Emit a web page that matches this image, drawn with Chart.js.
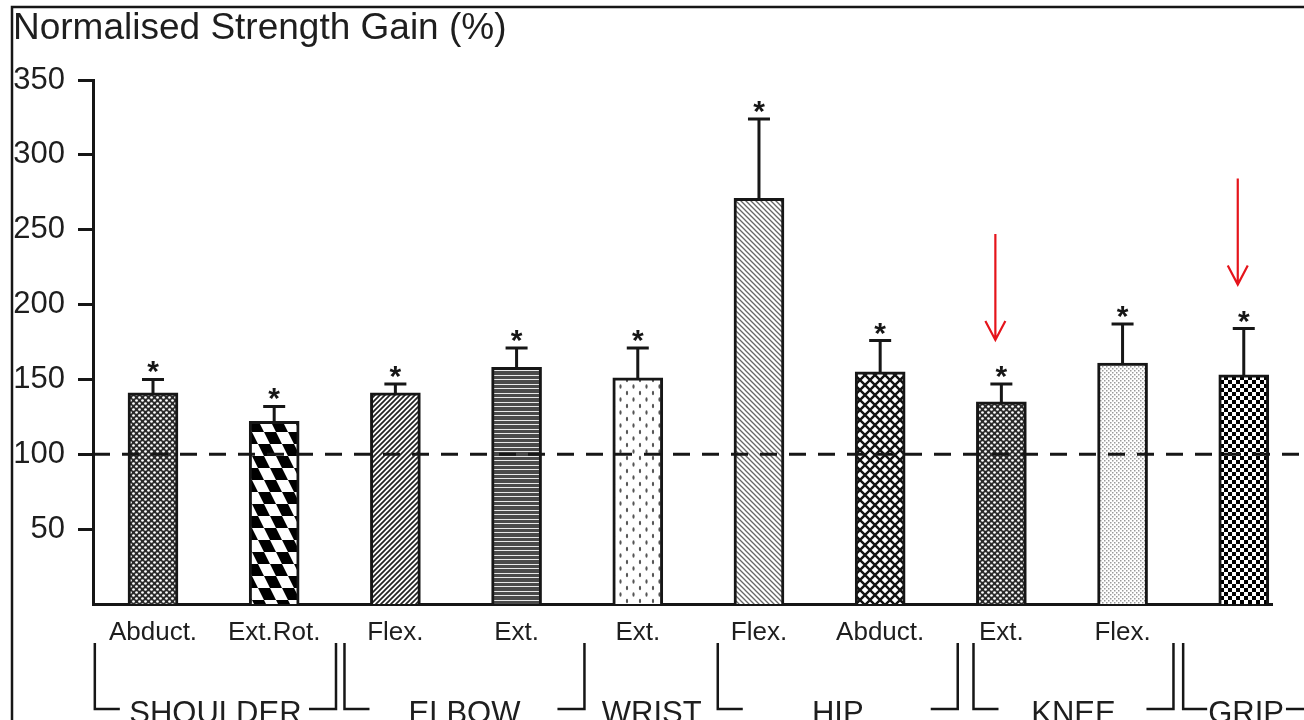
<!DOCTYPE html>
<html>
<head>
<meta charset="utf-8">
<script src="https://cdn.jsdelivr.net/npm/chart.js@4.4.1/dist/chart.umd.min.js"></script>
<style>
    html, body { margin: 0; padding: 0; background: #fff; }
    canvas { display: block; }
</style>
</head>
<body>
<canvas id="chart" width="1304" height="720"></canvas>
<script>
// values
const categories = ['Abduct.', 'Ext.Rot.', 'Flex.', 'Ext.', 'Ext.', 'Flex.', 'Abduct.', 'Ext.', 'Flex.', ''];
const meanGain = [141, 122, 141, 158, 151, 271, 155, 135, 161, 153];
const sdGain = [9, 10, 6, 13, 20, 53, 21, 12, 26, 31];
const significant = [true, true, true, true, true, true, true, true, true, true];
const yTicks = [50, 100, 150, 200, 250, 300, 350];
const referenceLine = 100;

const groupNames = ['SHOULDER', 'ELBOW', 'WRIST', 'HIP', 'KNEE', 'GRIP'];
const groupFirst = [0, 2, 4, 5, 7, 9];
const groupLast = [1, 3, 4, 6, 8, 9];

const markedBars = [7, 9]; // red arrows

const FONT = '"Liberation Sans", Arial, sans-serif';
const INK = '#161616';

const canvas = document.getElementById('chart');
const mainCtx = canvas.getContext('2d');

function tile(w, h, draw) {
    const c = document.createElement('canvas');
    c.width = w;
    c.height = h;
    const g = c.getContext('2d');
    g.fillStyle = '#fff';
    g.fillRect(0, 0, w, h);
    draw(g, w, h);
    return mainCtx.createPattern(c, 'repeat');
}

// one fill pattern per bar, roughly like the printed hatching
const patterns = {
    holes: tile(6, 6, g => {
        g.fillStyle = '#2a2a2a';
        g.fillRect(0, 0, 6, 6);
        g.fillStyle = '#fff';
        [[1.5, 1.5], [4.5, 4.5]].forEach(([px, py]) => {
            g.beginPath(); g.arc(px, py, 1.35, 0, Math.PI * 2); g.fill();
        });
    }),
    shearChecker: tile(24, 48, g => {
        g.fillStyle = '#000';
        for (let r = 0; r < 4; r++) {
            const y0 = r * 12, y1 = y0 + 12;
            for (let k = -3; k < 3; k++) {
                const x0 = 12 * (r % 2) + 24 * k;
                g.beginPath();
                g.moveTo(x0 + 0.5 * y0, y0);
                g.lineTo(x0 + 12 + 0.5 * y0, y0);
                g.lineTo(x0 + 12 + 0.5 * y1, y1);
                g.lineTo(x0 + 0.5 * y1, y1);
                g.closePath();
                g.fill();
            }
        }
    }),
    hatchFwd: tile(5, 5, g => {
        g.strokeStyle = '#222';
        g.lineWidth = 1.7;
        g.beginPath();
        g.moveTo(-1, 6); g.lineTo(6, -1);
        g.moveTo(-1, 1); g.lineTo(1, -1);
        g.moveTo(4, 6); g.lineTo(6, 4);
        g.stroke();
    }),
    hLines: tile(4, 18, g => {
        g.fillStyle = '#4a4a4a';
        g.fillRect(0, 0, 4, 18);
        g.fillStyle = '#e8e8e8';
        [1, 6, 10, 15].forEach(y => g.fillRect(0, y, 4, 1));
    }),
    sparseDots: tile(13, 13, g => {
        g.fillStyle = '#555';
        [[3, 3], [9.5, 9.5]].forEach(([px, py]) => {
            g.beginPath(); g.ellipse(px, py, 1.1, 2.2, 0, 0, Math.PI * 2); g.fill();
        });
    }),
    hatchBack: tile(5, 5, g => {
        g.strokeStyle = '#666';
        g.lineWidth = 1.3;
        g.beginPath();
        g.moveTo(-1, -1); g.lineTo(6, 6);
        g.moveTo(4, -1); g.lineTo(6, 1);
        g.moveTo(-1, 4); g.lineTo(1, 6);
        g.stroke();
    }),
    crossHatch: tile(10, 10, g => {
        g.strokeStyle = '#111';
        g.lineWidth = 2.4;
        g.beginPath();
        g.moveTo(-1, -1); g.lineTo(11, 11);
        g.moveTo(11, -1); g.lineTo(-1, 11);
        g.stroke();
    }),
    stipple: tile(4, 4, g => {
        g.fillStyle = '#9a9a9a';
        g.fillRect(0, 0, 1.5, 1.5);
        g.fillRect(2, 2, 1.5, 1.5);
    }),
    checker: tile(8, 8, g => {
        g.fillStyle = '#000';
        g.fillRect(0, 0, 4, 4);
        g.fillRect(4, 4, 4, 4);
    })
};

const barFills = [
    patterns.holes, patterns.shearChecker, patterns.hatchFwd, patterns.hLines, patterns.sparseDots,
    patterns.hatchBack, patterns.crossHatch, patterns.holes, patterns.stipple, patterns.checker
];

// frame and title
const frame = {
    id: 'frame',
    beforeDraw(chart) {
        const ctx = chart.ctx;
        ctx.save();
        ctx.strokeStyle = INK;
        ctx.lineWidth = 2.5;
        ctx.beginPath();
        ctx.moveTo(12, chart.height);
        ctx.lineTo(12, 7);
        ctx.lineTo(chart.width, 7);
        ctx.stroke();
        ctx.fillStyle = '#1e1e1e';
        ctx.font = '37px ' + FONT;
        ctx.textAlign = 'left';
        ctx.textBaseline = 'alphabetic';
        ctx.fillText('Normalised Strength Gain (%)', 13, 39);
        ctx.restore();
    }
};

const dashedReference = {
    id: 'dashedReference',
    afterDatasetsDraw(chart) {
        const { ctx, chartArea, scales: { y } } = chart;
        const py = y.getPixelForValue(referenceLine);
        ctx.save();
        ctx.strokeStyle = INK;
        ctx.lineWidth = 3;
        ctx.setLineDash([17, 12]);
        ctx.beginPath();
        ctx.moveTo(chartArea.left, py);
        ctx.lineTo(chart.width, py);
        ctx.stroke();
        ctx.restore();
    }
};

const errorBars = {
    id: 'errorBars',
    afterDatasetsDraw(chart) {
        const { ctx, scales: { x, y } } = chart;
        ctx.save();
        ctx.strokeStyle = INK;
        ctx.fillStyle = INK;
        ctx.lineWidth = 3;
        ctx.font = 'bold 30px ' + FONT;
        ctx.textAlign = 'center';
        ctx.textBaseline = 'alphabetic';
        const star = ctx.measureText('*');
        meanGain.forEach((m, i) => {
            const cx = x.getPixelForValue(i);
            const top = y.getPixelForValue(m);
            const err = y.getPixelForValue(m + sdGain[i]);
            ctx.beginPath();
            ctx.moveTo(cx, top);
            ctx.lineTo(cx, err);
            ctx.moveTo(cx - 11, err);
            ctx.lineTo(cx + 11, err);
            ctx.stroke();
            if (significant[i]) {
                ctx.fillText('*', cx, err - 6 - star.actualBoundingBoxDescent);
            }
        });
        // red arrows pointing at the highlighted bars
        ctx.strokeStyle = '#e5141b';
        ctx.lineWidth = 2.2;
        markedBars.forEach(i => {
            const ax = x.getPixelForValue(i) - 6;
            const tip = y.getPixelForValue(meanGain[i] + sdGain[i]) - 44;
            ctx.beginPath();
            ctx.moveTo(ax, tip - 106);
            ctx.lineTo(ax, tip);
            ctx.moveTo(ax - 10, tip - 19);
            ctx.lineTo(ax, tip);
            ctx.lineTo(ax + 10, tip - 19);
            ctx.stroke();
        });
        ctx.restore();
    }
};

// joint brackets under the movement labels
const groupBrackets = {
    id: 'groupBrackets',
    afterDraw(chart) {
        const { ctx, chartArea, scales: { x } } = chart;
        // bracket edges in category units (as drawn in the original figure)
        const edges = [[-0.48, 1.51], [1.58, 3.56], [null, null], [4.66, 6.64], [6.77, 8.42], [8.50, null]];
        const yTop = chartArea.bottom + 39;
        const yBar = chartArea.bottom + 105;
        const baseY = chartArea.bottom + 119;
        ctx.save();
        ctx.strokeStyle = INK;
        ctx.fillStyle = '#1e1e1e';
        ctx.lineWidth = 2.5;
        ctx.font = '31px ' + FONT;
        ctx.textBaseline = 'alphabetic';
        groupNames.forEach((name, g) => {
            const w = ctx.measureText(name).width;
            const [l, r] = edges[g];
            if (l === null) {
                // label only, under its single bar
                const cx = x.getPixelForValue(groupFirst[g]) + 14;
                ctx.textAlign = 'center';
                ctx.fillText(name, cx, baseY);
                return;
            }
            const lx = x.getPixelForValue(l);
            if (r === null) {
                // open-ended bracket running off the right edge
                ctx.beginPath();
                ctx.moveTo(lx, yTop);
                ctx.lineTo(lx, yBar);
                ctx.lineTo(lx + 24, yBar);
                ctx.stroke();
                ctx.textAlign = 'left';
                ctx.fillText(name, lx + 25, baseY);
                ctx.beginPath();
                ctx.moveTo(lx + 27 + w, yBar);
                ctx.lineTo(chart.width, yBar);
                ctx.stroke();
                return;
            }
            const rx = x.getPixelForValue(r);
            const mid = (lx + rx) / 2;
            const stubL = Math.min(25, mid - w / 2 - 6 - lx);
            const stubR = Math.min(27, rx - (mid + w / 2 + 5));
            ctx.beginPath();
            ctx.moveTo(lx, yTop);
            ctx.lineTo(lx, yBar);
            ctx.lineTo(lx + stubL, yBar);
            ctx.moveTo(rx - stubR, yBar);
            ctx.lineTo(rx, yBar);
            ctx.lineTo(rx, yTop);
            ctx.stroke();
            ctx.textAlign = 'center';
            ctx.fillText(name, mid, baseY);
        });
        ctx.restore();
    }
};

new Chart(canvas, {
    type: 'bar',
    data: {
        datasets: [{
            data: meanGain.map((v, i) => ({ x: i, y: v })),
            backgroundColor: barFills,
            borderColor: INK,
            borderWidth: 3,
            barThickness: 50
        }]
    },
    options: {
        responsive: false,
        animation: false,
        devicePixelRatio: 1,
        layout: { padding: { top: 80, right: 32, left: 0, bottom: 0 } },
        plugins: {
            legend: { display: false },
            tooltip: { enabled: false }
        },
        scales: {
            x: {
                type: 'linear',
                offset: false,
                min: -0.495,
                max: 9.233,
                afterBuildTicks: scale => {
                    scale.ticks = categories.map((c, i) => ({ value: i }));
                },
                afterFit: scale => { scale.height = 116; },
                grid: { display: false, drawTicks: false, offset: false },
                border: { display: true, color: INK, width: 3 },
                ticks: {
                    autoSkip: false,
                    maxRotation: 0,
                    padding: 13,
                    color: '#1e1e1e',
                    font: { family: FONT, size: 26 },
                    callback: value => categories[value] ?? ''
                }
            },
            y: {
                min: 0,
                max: 350,
                afterBuildTicks: scale => {
                    scale.ticks = yTicks.map(v => ({ value: v }));
                },
                afterFit: scale => { scale.width = 93; },
                grid: {
                    drawOnChartArea: false,
                    drawTicks: true,
                    tickLength: 15,
                    tickWidth: 3,
                    tickColor: INK
                },
                border: { display: true, color: INK, width: 3 },
                ticks: {
                    padding: 13,
                    color: '#1e1e1e',
                    font: { family: FONT, size: 31 }
                }
            }
        }
    },
    plugins: [frame, dashedReference, errorBars, groupBrackets]
});
</script>
</body>
</html>
